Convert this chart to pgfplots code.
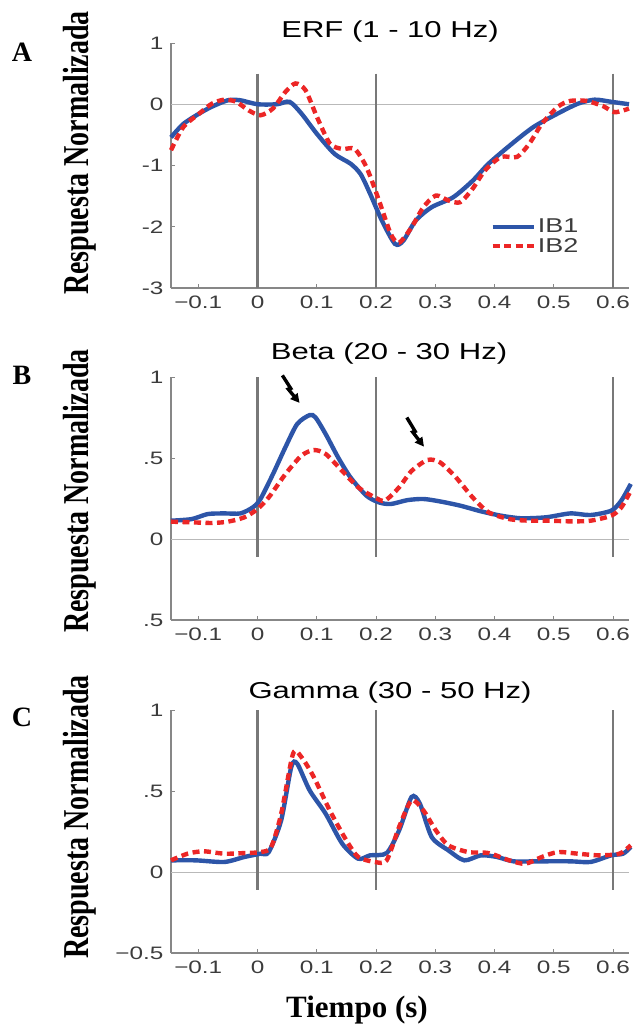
\documentclass[border=0pt]{standalone}
\usepackage{pgfplots}
\pgfplotsset{compat=1.18}
\usepackage{graphicx}
\usepackage{fontspec}
\setmainfont{Liberation Serif}
\newfontfamily\chartsans[FakeStretch=1.35]{Liberation Sans}
\usetikzlibrary{arrows.meta}
\definecolor{ibblue}{RGB}{45,85,168}
\definecolor{ibred}{RGB}{236,38,38}
\definecolor{axgray}{RGB}{135,135,135}
\definecolor{vgray}{RGB}{120,120,120}
\definecolor{tickgray}{RGB}{60,60,60}
\tikzset{bolt/.style={black, line width=3.4pt, line join=miter, -{Triangle[length=9pt,width=9pt]}}}
\pgfplotsset{
  panel/.style={
    scale only axis, width=458pt,
    xmin=-0.146, xmax=0.627,
    axis x line*=bottom, axis y line*=left,
    axis line style={axgray, line width=1.3pt, -},
    xtick={-0.1,0,0.1,0.2,0.3,0.4,0.5,0.6},
    xticklabels={−0.1,0,0.1,0.2,0.3,0.4,0.5,0.6},
    tick style={axgray, line width=1pt},
    major tick length=4pt, tick align=inside,
    ticklabel style={font=\chartsans\fontsize{18}{18}\selectfont, text=tickgray},
    xticklabel style={yshift=-4pt},
    yticklabel style={xshift=-4pt},
    clip=false,
  },
  s1/.style={ibblue, line width=4.4pt, smooth, tension=0.45},
  s2/.style={ibred, line width=4.4pt, dash pattern=on 7pt off 4.5pt, smooth, tension=0.45},
  vline/.style={vgray, line width=2.2pt, forget plot},
  zline/.style={gray!55, line width=0.9pt, forget plot},
}
\begin{document}
\begin{tikzpicture}[x=1pt,y=1pt]
\path[use as bounding box] (0,0) rectangle (638,-1027);

% ---------------- Panel A ----------------
\begin{axis}[panel, at={(171pt,-288pt)}, anchor=south west, height=245pt,
  ymin=-3, ymax=1, ytick={-3,-2,-1,0,1}, yticklabels={-3,-2,-1,0,1},
  legend style={at={(0.697,0.29)}, anchor=north west, draw=none, fill=none,
    font=\chartsans\fontsize{20}{22}\selectfont, text=tickgray,
    row sep=0pt, inner sep=0pt},
  legend cell align=left,
  legend image code/.code={\draw[#1] (0pt,0pt) -- (41pt,0pt);}]
\addplot[zline] coordinates {(-0.146,0) (0.627,0)};
\addplot[vline] coordinates {(0,0.5) (0,-3)};
\addplot[vline] coordinates {(0.2,0.5) (0.2,-3)};
\addplot[vline] coordinates {(0.6,0.5) (0.6,-3)};
\addplot[s1] coordinates {
(-0.146,-0.54) (-0.125,-0.32) (-0.098,-0.15) (-0.077,-0.04) (-0.05,0.065) (-0.029,0.065)
(0,0.0) (0.033,0.0) (0.054,0.04) (0.074,-0.15) (0.1,-0.48) (0.13,-0.81) (0.157,-0.97)
(0.174,-1.14) (0.19,-1.46) (0.21,-1.9) (0.232,-2.28) (0.246,-2.23) (0.267,-1.9) (0.294,-1.68)
(0.33,-1.52) (0.363,-1.25) (0.39,-0.97) (0.43,-0.64) (0.466,-0.37) (0.507,-0.15) (0.541,0.01)
(0.569,0.075) (0.597,0.04) (0.627,0.0)};
\addlegendentry{IB1}
\addplot[s2] coordinates {
(-0.146,-0.75) (-0.125,-0.37) (-0.098,-0.15) (-0.077,0.01) (-0.056,0.075) (-0.036,0.04)
(-0.015,-0.1) (0.005,-0.18) (0.026,-0.07) (0.047,0.2) (0.064,0.34) (0.081,0.23) (0.1,-0.2)
(0.122,-0.64) (0.143,-0.73) (0.164,-0.73) (0.184,-1.03) (0.205,-1.57) (0.225,-2.12)
(0.239,-2.26) (0.26,-2.01) (0.28,-1.68) (0.301,-1.49) (0.322,-1.57) (0.342,-1.6)
(0.363,-1.38) (0.384,-1.08) (0.411,-0.86) (0.438,-0.86) (0.459,-0.64) (0.48,-0.32)
(0.507,-0.04) (0.528,0.055) (0.555,0.055) (0.583,-0.03) (0.603,-0.13) (0.627,-0.07)};
\addlegendentry{IB2}
\end{axis}

% ---------------- Panel B ----------------
\begin{axis}[panel, at={(171pt,-620pt)}, anchor=south west, height=243pt,
  ymin=-0.5, ymax=1, ytick={-0.5,0,0.5,1}, yticklabels={.5,0,.5,1}]
\addplot[zline] coordinates {(-0.146,0) (0.627,0)};
\addplot[vline] coordinates {(0,1) (0,-0.11)};
\addplot[vline] coordinates {(0.2,1) (0.2,-0.11)};
\addplot[vline] coordinates {(0.6,1) (0.6,-0.11)};
\addplot[s1] coordinates {
(-0.146,0.113) (-0.111,0.123) (-0.084,0.154) (-0.056,0.158) (-0.029,0.158) (-0.008,0.195)
(0.005,0.247) (0.026,0.40) (0.047,0.566) (0.067,0.71) (0.088,0.765) (0.098,0.75)
(0.115,0.648) (0.136,0.504) (0.157,0.38) (0.184,0.267) (0.205,0.226) (0.225,0.216)
(0.253,0.24) (0.28,0.247) (0.308,0.232) (0.342,0.206) (0.377,0.171) (0.411,0.144)
(0.445,0.128) (0.487,0.134) (0.528,0.158) (0.562,0.148) (0.597,0.175) (0.614,0.237) (0.63,0.34)};
\addplot[s2] coordinates {
(-0.146,0.107) (-0.111,0.103) (-0.077,0.099) (-0.05,0.107) (-0.022,0.134) (0,0.185)
(0.019,0.257) (0.047,0.40) (0.074,0.514) (0.095,0.549) (0.115,0.525) (0.143,0.42)
(0.17,0.319) (0.198,0.257) (0.215,0.237) (0.239,0.319) (0.26,0.42) (0.287,0.488)
(0.308,0.473) (0.335,0.38) (0.363,0.257) (0.39,0.165) (0.425,0.123) (0.459,0.113)
(0.493,0.113) (0.528,0.109) (0.562,0.113) (0.597,0.144) (0.614,0.195) (0.63,0.298)};
\draw[bolt] (axis cs:0.042,1.01) -- (axis cs:0.056,0.93) -- (axis cs:0.052,0.925) -- (axis cs:0.071,0.84);
\draw[bolt] (axis cs:0.252,0.75) -- (axis cs:0.266,0.665) -- (axis cs:0.262,0.66) -- (axis cs:0.281,0.57);
\end{axis}

% ---------------- Panel C ----------------
\begin{axis}[panel, at={(171pt,-953pt)}, anchor=south west, height=243pt,
  ymin=-0.5, ymax=1, ytick={-0.5,0,0.5,1}, yticklabels={−0.5,0,.5,1}]
\addplot[zline] coordinates {(-0.146,0) (0.627,0)};
\addplot[vline] coordinates {(0,1) (0,-0.11)};
\addplot[vline] coordinates {(0.2,1) (0.2,-0.11)};
\addplot[vline] coordinates {(0.6,1) (0.6,-0.11)};
\addplot[s1] coordinates {
(-0.146,0.072) (-0.104,0.072) (-0.056,0.062) (-0.022,0.093) (0.005,0.113) (0.019,0.123)
(0.04,0.32) (0.057,0.648) (0.067,0.669) (0.088,0.504) (0.115,0.36) (0.143,0.175)
(0.17,0.082) (0.19,0.103) (0.218,0.117) (0.239,0.257) (0.26,0.463) (0.274,0.422)
(0.294,0.216) (0.322,0.134) (0.349,0.072) (0.377,0.103) (0.404,0.093) (0.432,0.066)
(0.473,0.066) (0.528,0.066) (0.562,0.062) (0.597,0.103) (0.617,0.113) (0.63,0.154)};
\addplot[s2] coordinates {
(-0.146,0.072) (-0.118,0.113) (-0.091,0.128) (-0.056,0.113) (-0.022,0.117) (0.005,0.123)
(0.023,0.154) (0.04,0.36) (0.06,0.73) (0.074,0.71) (0.095,0.586) (0.122,0.38)
(0.15,0.195) (0.17,0.093) (0.198,0.062) (0.218,0.072) (0.239,0.278) (0.26,0.442)
(0.28,0.38) (0.301,0.257) (0.322,0.165) (0.356,0.123) (0.39,0.117) (0.425,0.072)
(0.452,0.051) (0.48,0.093) (0.507,0.123) (0.541,0.113) (0.576,0.103) (0.611,0.113) (0.63,0.165)};
\end{axis}

% ---------------- Labels ----------------
\node[font=\chartsans\fontsize{23}{25}\selectfont] at (390,-32) {ERF (1 - 10 Hz)};
\node[font=\chartsans\fontsize{23}{25}\selectfont] at (389,-354) {Beta (20 - 30 Hz)};
\node[font=\chartsans\fontsize{23}{25}\selectfont] at (390,-693) {Gamma (30 - 50 Hz)};
\foreach \yc in {153,491,817}{
  \node[rotate=90, font=\bfseries\fontsize{28}{30}\selectfont] at (80,-\yc) {\scalebox{1}[1.3]{Respuesta Normalizada}};
}
\node[font=\bfseries\fontsize{28}{30}\selectfont] at (22,-52) {A};
\node[font=\bfseries\fontsize{28}{30}\selectfont] at (22,-375) {B};
\node[font=\bfseries\fontsize{28}{30}\selectfont] at (22,-717) {C};
\node[font=\bfseries\fontsize{31}{33}\selectfont] at (357,-1010) {Tiempo (s)};
\end{tikzpicture}
\end{document}
